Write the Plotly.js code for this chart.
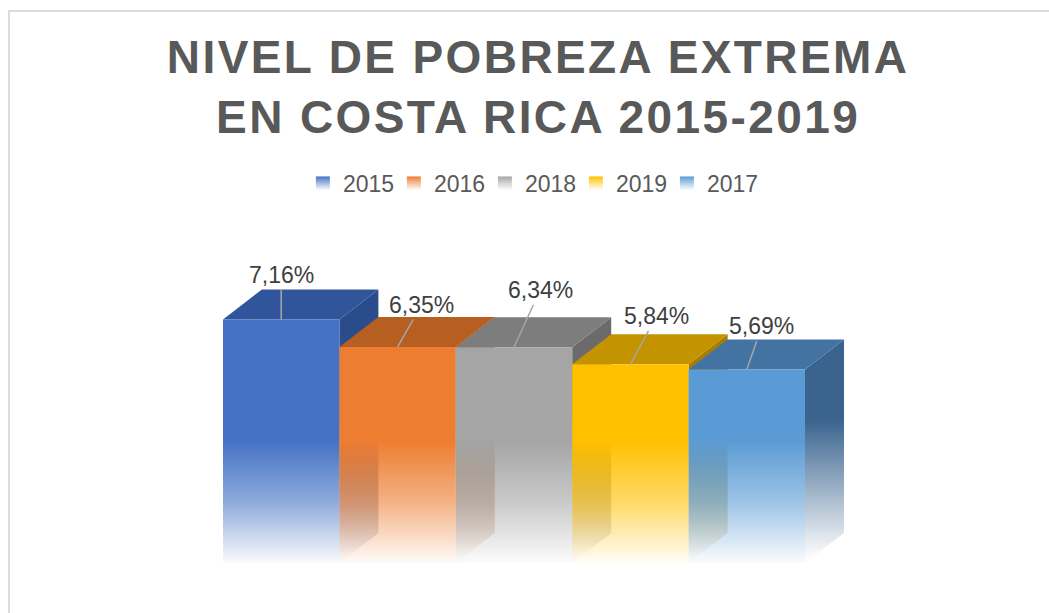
<!DOCTYPE html>
<html><head><meta charset="utf-8">
<script src="https://cdn.plot.ly/plotly-3.0.1.min.js"></script>
<style>
html,body{margin:0;padding:0;background:#fff;overflow:hidden}
#chart{width:1049px;height:613px}
#chart .gtitle{letter-spacing:2.4px}
#frame{position:absolute;left:8px;top:10px;width:1200px;height:800px;border:2px solid #dcdcdc;pointer-events:none}
</style></head><body>
<div id="chart"></div><div id="frame"></div>
<script>
// ---- data ----
const years = ['2015', '2016', '2018', '2019', '2017'];
const values = [7.16, 6.35, 6.34, 5.84, 5.69];
const chartTitle = 'NIVEL DE POBREZA EXTREMA<br>EN COSTA RICA 2015-2019';

// ---- styles ----
const frontColors = ['#4472C4', '#ED7D31', '#A5A5A5', '#FFC000', '#5B9BD5'];
const topColors   = ['#30559A', '#B65F21', '#7D7D7D', '#C39300', '#4273A3'];
const sideColors  = ['#2B4C8A', '#A2521A', '#6B6B6B', '#A67D00', '#3A648E'];
const labelAx = [0, 24, 26, 26, 15];
const labelAy = [-44, -42, -57, -48, -43];
const FONT = 'Liberation Sans, Arial, sans-serif';

// 3D geometry (axis units)
const depthX = 0.335, depthY = 0.88, fadeStop = 3.6;

function rgba(hex, a) {
  const n = parseInt(hex.slice(1), 16);
  return `rgba(${(n >> 16) & 255},${(n >> 8) & 255},${n & 255},${a})`;
}

const traces = [];
values.forEach((v, i) => {
  const xl = i - 0.5, xr = i + 0.5;
  // side face
  traces.push({
    type: 'scatter', mode: 'none', fill: 'toself', showlegend: false, hoverinfo: 'skip',
    x: [xr, xr, xr + depthX, xr + depthX, xr],
    y: [0, v, v + depthY, depthY, 0],
    fillgradient: {type: 'vertical', start: 0.2, stop: fadeStop + 0.6,
      colorscale: [[0, rgba(sideColors[i], 0.02)], [1, rgba(sideColors[i], 1)]]}
  });
  // top face
  traces.push({
    type: 'scatter', mode: 'none', fill: 'toself', showlegend: false, hoverinfo: 'skip',
    x: [xl, xr, xr + depthX, xl + depthX, xl],
    y: [v, v, v + depthY, v + depthY, v],
    fillcolor: topColors[i]
  });
  // front face
  traces.push({
    type: 'scatter', mode: 'none', fill: 'toself', showlegend: false, hoverinfo: 'skip',
    x: [xl, xr, xr, xl, xl],
    y: [0, 0, v, v, 0],
    fillgradient: {type: 'vertical', start: 0, stop: fadeStop,
      colorscale: [[0, rgba(frontColors[i], 0.03)], [0.5, rgba(frontColors[i], 0.6)], [1, rgba(frontColors[i], 1)]]}
  });
});
// legend entries
years.forEach((yr, i) => {
  traces.push({
    type: 'scatter', mode: 'markers', name: yr, x: [null], y: [null], showlegend: true,
    marker: {symbol: 'square', size: 14, color: frontColors[i],
      gradient: {type: 'vertical', color: 'rgba(255,255,255,0.9)'}}
  });
});

const annotations = values.map((v, i) => ({
  x: i, y: v, xref: 'x', yref: 'y',
  text: v.toFixed(2).replace('.', ',') + '%',
  showarrow: true, arrowhead: 0, arrowwidth: 1.5, arrowcolor: '#a6a6a6',
  ax: labelAx[i], ay: labelAy[i], standoff: 0,
  font: {family: FONT, size: 23, color: '#404040'}
}));

const layout = {
  width: 1049, height: 613,
  margin: {l: 223, r: 205, t: 250, b: 50},
  paper_bgcolor: '#ffffff', plot_bgcolor: '#ffffff',
  xaxis: {range: [-0.5, 4.5 + depthX], visible: false, fixedrange: true},
  yaxis: {range: [0, 9.2], visible: false, fixedrange: true},
  title: {
    text: chartTitle, x: 0.513, xanchor: 'center', xref: 'container',
    y: 0.881, yanchor: 'top', yref: 'container',
    font: {family: FONT, size: 46, color: '#595959', weight: 'bold'}
  },
  showlegend: true,
  legend: {orientation: 'h', x: 0.495, xanchor: 'center', y: 1.2125, yanchor: 'middle',
    entrywidth: 46, entrywidthmode: 'pixels',
    font: {family: FONT, size: 23, color: '#595959'}, bgcolor: 'rgba(0,0,0,0)'},
  annotations: annotations,
  hovermode: false
};

Plotly.newPlot('chart', traces, layout, {staticPlot: true, displayModeBar: false});
</script>
</body></html>
